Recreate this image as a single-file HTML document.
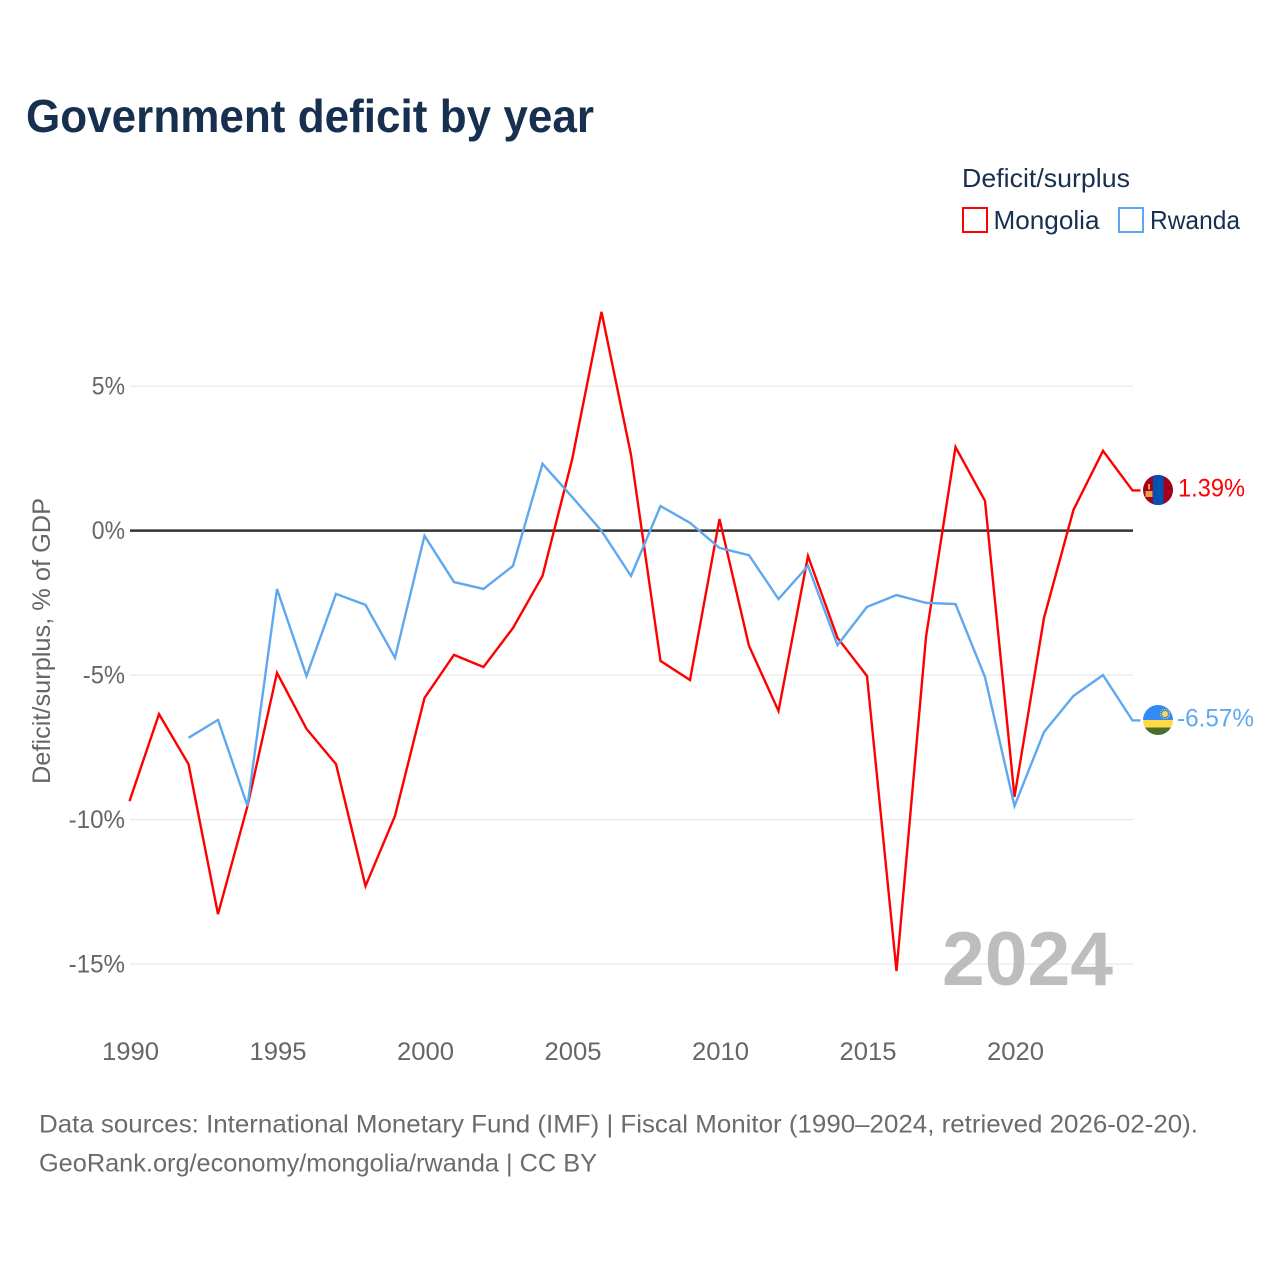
<!DOCTYPE html>
<html>
<head>
<meta charset="utf-8">
<title>Government deficit by year</title>
<style>
html,body{margin:0;padding:0;background:#fff;}
svg{display:block;}
text{font-family:"Liberation Sans",sans-serif;}
</style>
</head>
<body>
<svg id="chart" width="1280" height="1280" viewBox="0 0 1280 1280" xmlns="http://www.w3.org/2000/svg">
<rect width="1280" height="1280" fill="#fff"/>
<text x="26" y="132" font-size="46" font-weight="700" fill="#18304f" textLength="568" lengthAdjust="spacingAndGlyphs">Government deficit by year</text>
<g>
<text x="962" y="187" font-size="26" fill="#18304f" textLength="168" lengthAdjust="spacingAndGlyphs">Deficit/surplus</text>
<rect x="963" y="208" width="24" height="24" fill="#fff" stroke="#ff0000" stroke-width="2"/>
<text x="993.5" y="229" font-size="26" fill="#18304f" textLength="106" lengthAdjust="spacingAndGlyphs">Mongolia</text>
<rect x="1119" y="208" width="24" height="24" fill="#fff" stroke="#5fa8f0" stroke-width="2"/>
<text x="1150" y="229" font-size="26" fill="#18304f" textLength="90" lengthAdjust="spacingAndGlyphs">Rwanda</text>
</g>
<text transform="translate(50,641) rotate(-90)" text-anchor="middle" font-size="25" fill="#666" textLength="286" lengthAdjust="spacingAndGlyphs">Deficit/surplus, % of GDP</text>
<g id="grid"></g>
<g id="yticks"></g>
<g id="xticks"></g>
<text x="942" y="985" font-size="76" font-weight="700" fill="#bdbdbd" textLength="171" lengthAdjust="spacingAndGlyphs">2024</text>
<g id="lines"></g>
<defs>
<clipPath id="flagClipM"><circle cx="1158" cy="490" r="15"/></clipPath>
<clipPath id="flagClipR"><circle cx="1158" cy="720" r="15"/></clipPath>
</defs>
<g id="flagM" clip-path="url(#flagClipM)">
<rect x="1143" y="475" width="30" height="30" fill="#a2001d"/>
<rect x="1153" y="475" width="10.5" height="30" fill="#0052b4"/>
<rect x="1145.5" y="491" width="7" height="6" fill="#e8a33d"/>
<rect x="1148" y="484" width="2" height="5.5" fill="#e8a33d"/>
</g>
<g id="flagR" clip-path="url(#flagClipR)">
<rect x="1143" y="705" width="30" height="15" fill="#338af3"/>
<rect x="1143" y="720" width="30" height="7.5" fill="#ffda44"/>
<rect x="1143" y="727.5" width="30" height="7.5" fill="#496e2d"/>
<circle cx="1165" cy="714" r="3" fill="#ffda44"/>
<circle cx="1165" cy="714" r="4.5" fill="none" stroke="#ffda44" stroke-width="1" stroke-dasharray="1 1"/>
</g>
<text x="1178" y="496.5" font-size="25" fill="#ff0000" textLength="67" lengthAdjust="spacingAndGlyphs">1.39%</text>
<text x="1177" y="726.5" font-size="25" fill="#5fa8f0" textLength="77" lengthAdjust="spacingAndGlyphs">-6.57%</text>
<g>
<text x="39" y="1132.5" font-size="25" fill="#6b6b6b" textLength="1159" lengthAdjust="spacingAndGlyphs">Data sources: International Monetary Fund (IMF) | Fiscal Monitor (1990–2024, retrieved 2026-02-20).</text>
<text x="39" y="1171.5" font-size="25" fill="#6b6b6b" textLength="558" lengthAdjust="spacingAndGlyphs">GeoRank.org/economy/mongolia/rwanda | CC BY</text>
</g>
</svg>
<script>
const years = [1990,1991,1992,1993,1994,1995,1996,1997,1998,1999,2000,2001,2002,2003,2004,2005,2006,2007,2008,2009,2010,2011,2012,2013,2014,2015,2016,2017,2018,2019,2020,2021,2022,2023,2024];
const mongolia = [-9.36,-6.35,-8.08,-13.27,-9.53,-4.92,-6.86,-8.08,-12.3,-9.87,-5.79,-4.3,-4.72,-3.37,-1.57,2.44,7.57,2.62,-4.51,-5.17,0.4,-3.99,-6.24,-0.88,-3.71,-5.03,-15.24,-3.68,2.89,1.03,-9.21,-3.02,0.72,2.76,1.39];
const rwanda = [null,null,-7.17,-6.55,-9.53,-2.02,-5.03,-2.19,-2.57,-4.4,-0.18,-1.78,-2.02,-1.22,2.31,1.17,-0.01,-1.57,0.85,0.27,-0.6,-0.85,-2.37,-1.22,-3.96,-2.64,-2.23,-2.5,-2.54,-5.07,-9.53,-6.97,-5.72,-5,-6.57];
const yTickValues = [5,0,-5,-10,-15];
const yTickLabels = ['5%','0%','-5%','-10%','-15%'];
const xTickLabels = [1990,1995,2000,2005,2010,2015,2020];

const NS = 'http://www.w3.org/2000/svg';
function xScale(year){ return 129.5 + (year - 1990) * 29.5; }
function yScale(v){ return 530.6 - v * 28.9; }
function make(tag, attrs, parent){
  const el = document.createElementNS(NS, tag);
  for (const k in attrs) el.setAttribute(k, attrs[k]);
  parent.appendChild(el);
  return el;
}
function labelWidth(s){
  let w = 0;
  for (const c of String(s)) w += c === '%' ? 19 : c === '-' ? 9 : 14.2;
  return w;
}
const gridG = document.getElementById('grid');
const yG = document.getElementById('yticks');
const xG = document.getElementById('xticks');
const linesG = document.getElementById('lines');

yTickValues.forEach(function(v, i){
  const y = yScale(v);
  const ln = make('line', {x1:130, x2:1133, y1:y, y2:y, stroke:'#e8e8e8', 'stroke-width':1.2}, gridG);
  
  
  const t = make('text', {x:125, y:y+8.5, 'text-anchor':'end', 'font-size':25, fill:'#666', textLength:labelWidth(yTickLabels[i]), lengthAdjust:'spacingAndGlyphs'}, yG);
  t.textContent = yTickLabels[i];
  
  
});
const zero = make('line', {x1:130, x2:1133, y1:yScale(0), y2:yScale(0), stroke:'#333', 'stroke-width':2.5}, gridG);



xTickLabels.forEach(function(yr){
  const t = make('text', {x:xScale(yr)+1, y:1060, 'text-anchor':'middle', 'font-size':25, fill:'#666', textLength:57, lengthAdjust:'spacingAndGlyphs'}, xG);
  t.textContent = yr;
  
  
});

function buildPath(values){
  const pts = [];
  values.forEach(function(v, i){
    if (v !== null) pts.push(xScale(years[i]).toFixed(2) + ',' + yScale(v).toFixed(2));
  });
  const last = values[values.length - 1];
  pts.push((xScale(years[years.length - 1]) + 8).toFixed(2) + ',' + yScale(last).toFixed(2));
  return pts.join(' ');
}
const lineM = make('polyline', {points:buildPath(mongolia), fill:'none', stroke:'#ff0000', 'stroke-width':2.4, 'stroke-linejoin':'miter'}, linesG);


const lineR = make('polyline', {points:buildPath(rwanda), fill:'none', stroke:'#5fa8f0', 'stroke-width':2.4, 'stroke-linejoin':'miter'}, linesG);


</script>
</body>
</html>
